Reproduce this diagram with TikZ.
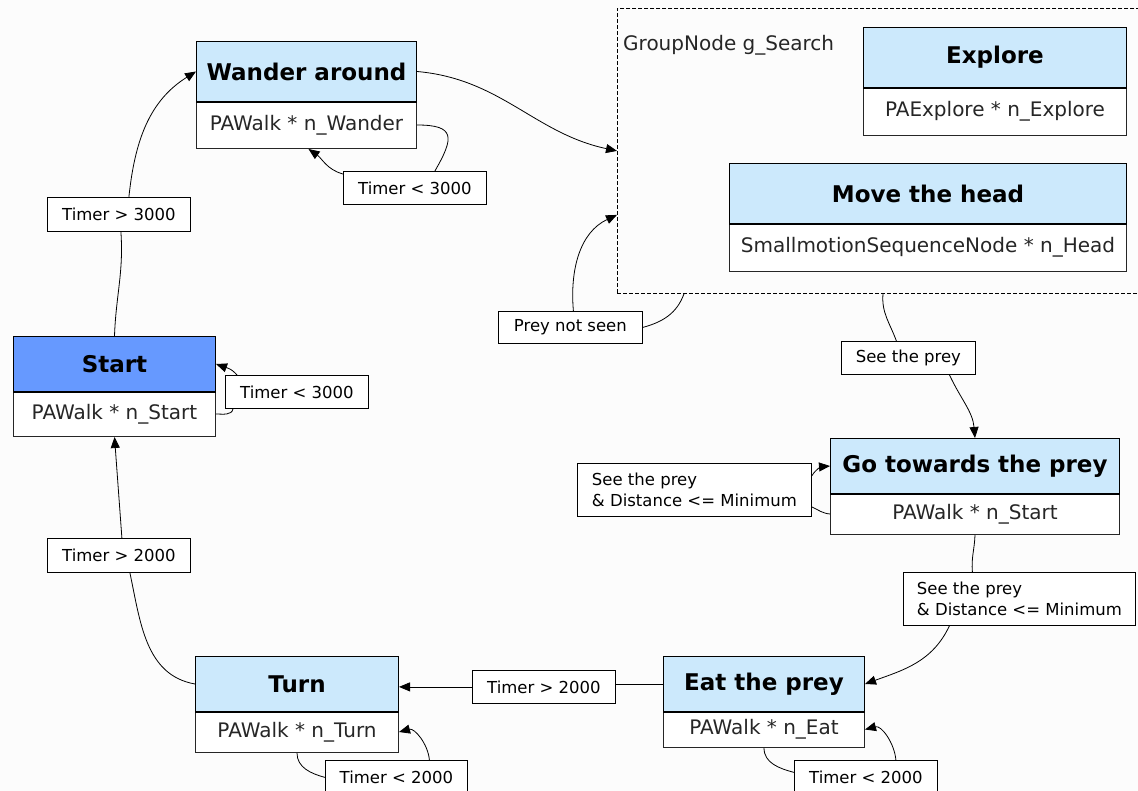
\documentclass[tikz,border=0pt]{standalone}
\usepackage{fontspec}
\setmainfont{DejaVu Sans}
\usetikzlibrary{arrows.meta,calc}

\definecolor{hdrblue}{RGB}{204,233,252}
\definecolor{startblue}{RGB}{102,153,255}
\definecolor{canvasbg}{RGB}{252,252,252}

\tikzset{
  hdr/.style={draw=black, line width=1pt, anchor=north west, inner sep=0pt,
    font=\fontsize{23}{27}\selectfont\bfseries},
  bdy/.style={draw=black!85, line width=1pt, fill=white, anchor=north west, inner sep=0pt,
    text=black!85, font=\fontsize{20}{24}\selectfont},
  lbl/.style={draw=black, line width=0.8pt, fill=white, anchor=north west, inner sep=0pt,
    align=left, font=\fontsize{16.5}{21}\selectfont},
  grpbox/.style={draw=black, line width=0.8pt, dash pattern=on 4pt off 2pt,
    anchor=north west, inner sep=0pt},
  conn/.style={line width=0.8pt, draw=black},
  arr/.style={conn, -{Triangle[length=11pt,width=9pt]}},
}

% state: name, x1, x2, y top, y divider, y bottom, title, action, header fill
\newcommand{\stbox}[9]{%
  \node[hdr, fill=#9, minimum width={#3pt-#2pt}, minimum height={#5pt-#4pt}] (#1H) at (#2,-#4) {#7};
  \node[bdy, minimum width={#3pt-#2pt}, minimum height={#6pt-#5pt}] (#1B) at (#2,-#5) {#8};
  \draw[line width=2pt] (#1H.south west) -- (#1H.south east);
}
% condition label: name, x1, x2, y top, y bottom, text
\newcommand{\cond}[6]{%
  \node[lbl, minimum width={#3pt-#2pt}, minimum height={#5pt-#4pt}] (#1) at (#2,-#4) {#6};
}

\begin{document}
\begin{tikzpicture}[x=1pt,y=1pt]
\fill[canvasbg, use as bounding box] (0,0) rectangle (1138,-791);

% group of search behaviours
\node[grpbox, minimum width=545pt, minimum height=285pt] (grp) at (617,-8) {};
\node[anchor=west, inner sep=0pt, text=black!85, font=\fontsize{20}{24}\selectfont] (grpname) at (623,-45) {GroupNode g\_Search};

% states
\stbox{wander}{196}{416}{41}{101}{148}{Wander around}{PAWalk * n\_Wander}{hdrblue}
\stbox{explore}{863}{1126}{27}{87}{135}{Explore}{PAExplore * n\_Explore}{hdrblue}
\stbox{head}{729}{1126}{163}{223}{271}{Move the head}{SmallmotionSequenceNode * n\_Head}{hdrblue}
\stbox{start}{13}{215}{336}{391}{436}{Start}{PAWalk * n\_Start}{startblue}
\stbox{go}{830}{1119}{438}{493}{534}{Go towards the prey}{PAWalk * n\_Start}{hdrblue}
\stbox{turn}{195}{398}{656}{711}{752}{Turn}{PAWalk * n\_Turn}{hdrblue}
\stbox{eat}{663}{864}{656}{711}{747}{Eat the prey}{PAWalk * n\_Eat}{hdrblue}

% transition conditions
\cond{t3a}{47}{190}{197}{231}{Timer > 3000}
\cond{tw}{343}{486}{171}{204}{Timer < 3000}
\cond{pns}{498}{642}{311}{343}{Prey not seen}
\cond{stp}{841}{975}{341}{374}{See the prey}
\cond{dl}{577}{811}{463}{516}{See the prey\\\& Distance <= Minimum}
\cond{dr}{903}{1135}{572}{625}{See the prey\\\& Distance <= Minimum}
\cond{t2a}{47}{190}{538}{572}{Timer > 2000}
\cond{ts}{225}{368}{375}{408}{Timer < 3000}
\cond{t2b}{472}{615}{670}{703}{Timer > 2000}
\cond{tt}{325}{467}{760}{794}{Timer < 2000}
\cond{te}{794}{937}{760}{794}{Timer < 2000}

% Start -> Wander around
\draw[conn] (startH.north) to[out=88,in=-86] ([xshift=2pt]t3a.south);
\draw[arr] ([xshift=10pt]t3a.north) to[out=84,in=212] (wanderH.west);

% Wander around -> itself
\draw[conn] (wanderB.east) to[out=0,in=60,looseness=2] ([xshift=20pt]tw.north);
\draw[arr] ([yshift=-3pt]tw.north west) to[out=165,in=-35] ([xshift=2pt]wanderB.south);

% Wander around -> search group
\draw[arr] (wanderH.east) to[out=-5,in=168] (grp.west);

% search group -> itself
\draw[conn] ([xshift=67pt]grp.south west) to[out=-110,in=15] (pns.east);
\draw[arr] ([xshift=3pt]pns.north) to[out=95,in=205] ([yshift=-64pt]grp.west);

% search group -> Go towards the prey
\draw[conn] ([xshift=266pt]grp.south west) to[out=-95,in=110] ([xshift=-12pt]stp.north);
\draw[arr] ([xshift=41pt]stp.south) to[out=-65,in=95] (goH.north);

% Go towards the prey -> itself
\draw[conn] (goB.west) to[out=175,in=-25] ([yshift=-17pt]dl.east);
\draw[arr] ([yshift=14pt]dl.east) to[out=60,in=185] (goH.west);

% Go towards the prey -> Eat the prey
\draw[conn] (goB.south) to[out=-92,in=95] ([xshift=-47pt]dr.north);
\draw[arr] ([xshift=-70pt]dr.south) to[out=-115,in=20] (eatH.east);

% Eat the prey -> Turn
\draw[conn] (eatH.west) -- (eatH.west -| t2b.east);
\draw[arr] (t2b.west) -- (t2b.west -| turnH.east);

% Eat the prey -> itself
\draw[conn] (eatB.south) to[out=-90,in=165] ([yshift=5pt]te.west);
\draw[arr] ([xshift=30pt]te.north) to[out=95,in=15] (eatB.east);

% Turn -> Start
\draw[conn] (turnH.west) to[out=170,in=-78] ([xshift=11pt]t2a.south);
\draw[arr] ([xshift=3pt]t2a.north) -- (startB.south);

% Turn -> itself
\draw[conn] (turnB.south) to[out=-90,in=165] (tt.west);
\draw[arr] ([xshift=33pt]tt.north) to[out=95,in=15] (turnB.east);

% Start -> itself
\draw[conn] (startB.east) to[out=0,in=-100] ([xshift=8pt]ts.south west);
\draw[arr] ([xshift=12pt]ts.north west) to[out=130,in=-20] (startH.east);
\end{tikzpicture}
\end{document}
